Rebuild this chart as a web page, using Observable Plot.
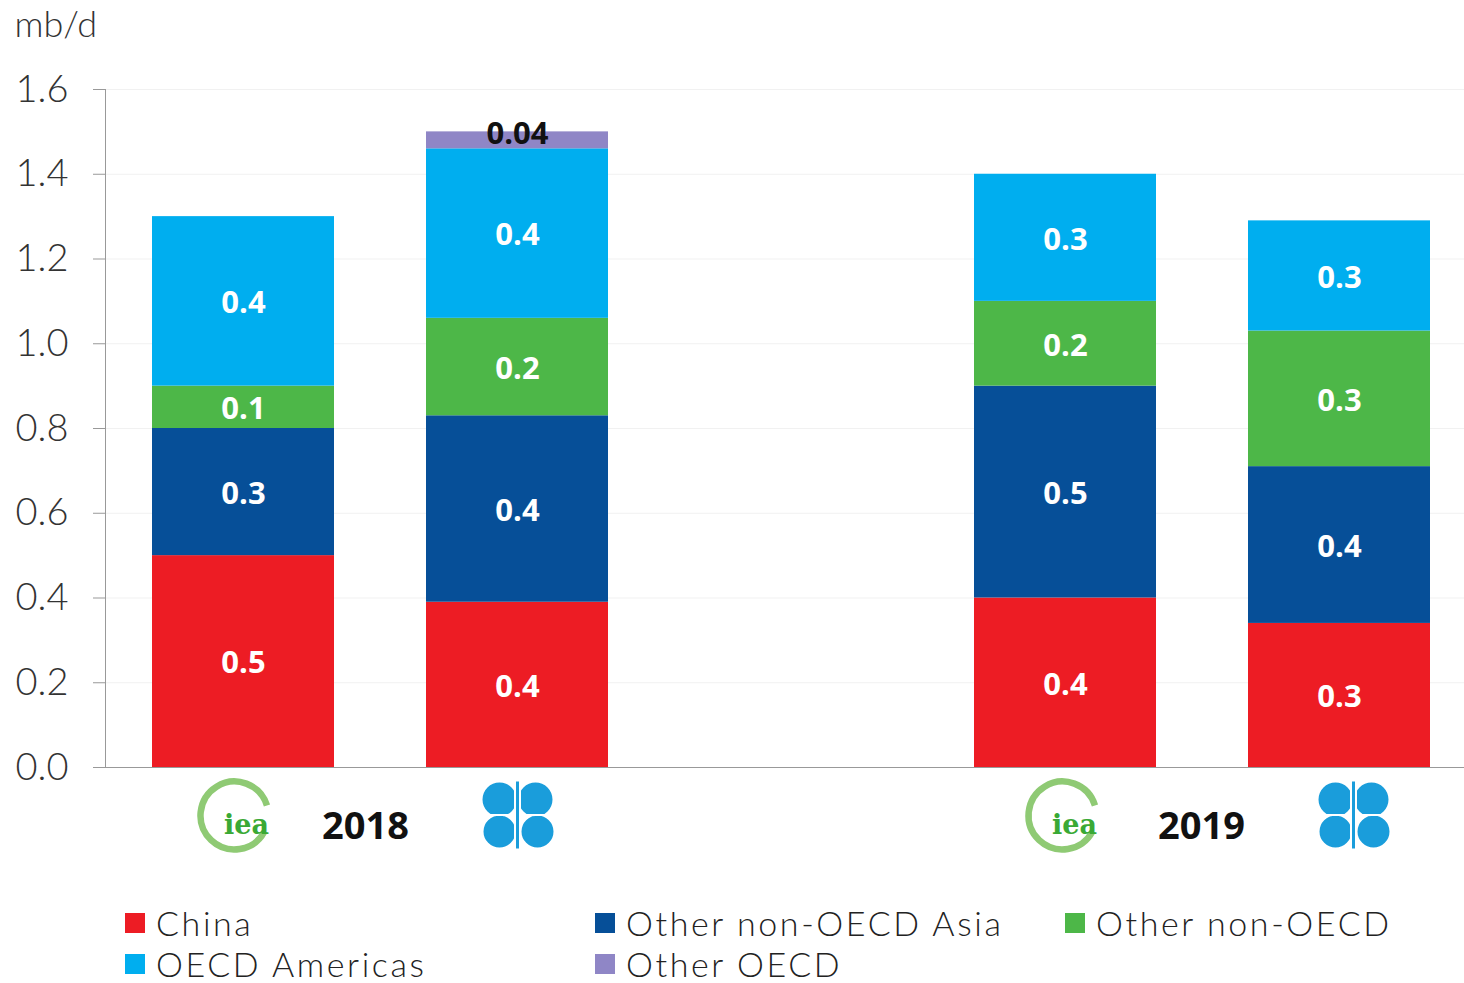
<!DOCTYPE html>
<html><head><meta charset="utf-8">
<script src="https://cdn.jsdelivr.net/npm/d3@7"></script>
<script src="https://cdn.jsdelivr.net/npm/@observablehq/plot@0.6"></script>
<style>
body{margin:0;background:#fff;font-family:Lato,"Open Sans",sans-serif;}
#legend{display:grid;grid-template-columns:470px 470px 470px;grid-template-rows:41px 41px;grid-auto-flow:column;padding-left:125px;padding-top:22px;font-family:Lato,sans-serif;font-weight:300;font-size:34px;letter-spacing:2.6px;color:#222;}
#legend .item{display:flex;align-items:center;white-space:nowrap;line-height:41px;height:41px;}
#legend .sw{width:20px;height:20px;margin-right:11px;flex:none;}
</style></head><body>
<div id="chart"></div>
<div id="legend"></div>
<script>
// ---- data ----
const bars = ["IEA 2018", "OPEC 2018", "IEA 2019", "OPEC 2019"];
const slots = ["IEA 2018", "OPEC 2018", "", "IEA 2019", "OPEC 2019"];
const agencies = ["IEA", "OPEC", "IEA", "OPEC"];
const yearLabels = ["2018", "2019"];
const yearAnchorBars = ["IEA 2018", "IEA 2019"];
const regions = ["China", "Other non-OECD Asia", "Other non-OECD", "OECD Americas", "Other OECD"];
const china        = [0.50, 0.39, 0.40, 0.34];
const otherAsia    = [0.30, 0.44, 0.50, 0.37];
const otherNonOECD = [0.10, 0.23, 0.20, 0.32];
const oecdAmericas = [0.40, 0.40, 0.30, 0.26];
const otherOECD    = [0.00, 0.04, 0.00, 0.00];
const yTicks = [0, 0.2, 0.4, 0.6, 0.8, 1.0, 1.2, 1.4, 1.6];
const regionColors = ["#ed1c24", "#064f98", "#4db748", "#00aeef", "#8f86c6"];
const legendOrder = ["China", "OECD Americas", "Other non-OECD Asia", "Other OECD", "Other non-OECD"];

const series = [china, otherAsia, otherNonOECD, oecdAmericas, otherOECD];
const data = [];
bars.forEach((b, i) => regions.forEach((r, j) => data.push({bar: b, region: r, value: series[j][i]})));
const fmt = v => v <= 0 ? "" : (v < 0.05 ? d3.format(".2f")(v) : d3.format(".1f")(v));

const logos = bars.map((b, i) => ({bar: b, agency: agencies[i]}));
const years = yearLabels.map((y, i) => ({year: y, bar: yearAnchorBars[i]}));

// custom logo symbols
const ringSym = {draw(ctx) { const r = 34, a0 = 0.5, a1 = 2 * Math.PI - 0.3; ctx.moveTo(r * Math.cos(a0), r * Math.sin(a0)); ctx.arc(0, 0, r, a0, a1); }};
const opecBlobs = {draw(ctx) {
  [[-18, -15, 17], [18, -15, 17], [-18, 17, 16], [20, 17, 16]].forEach(([x, y, r]) => { ctx.moveTo(x + r, y); ctx.arc(x, y, r, 0, 2 * Math.PI); });
}};
const opecGap = {draw(ctx) { ctx.rect(-3.5, -34, 7, 68); ctx.rect(-38, -0.5, 76, 2); }};
const opecBar = {draw(ctx) { ctx.rect(-1.5, -33, 3, 67); }};

// per-group offsets for logos and year labels
const groupOffsets = [
  {year: "2018", ieaDx: -9, opecDx: 0, yearDx: 122},
  {year: "2019", ieaDx: -3, opecDx: 14, yearDx: 136}
];
const logoMarks = [];
groupOffsets.forEach(g => {
  const iea = logos.filter(d => d.agency === "IEA" && d.bar.endsWith(g.year));
  const opec = logos.filter(d => d.agency === "OPEC" && d.bar.endsWith(g.year));
  const yr = years.filter(d => d.year === g.year);
  logoMarks.push(
    Plot.dot(iea, {x: "bar", frameAnchor: "bottom", dx: g.ieaDx, dy: 48, r: 10, symbol: ringSym, stroke: "#8fca74", strokeWidth: 6.5, fill: "none"}),
    Plot.text(iea, {x: "bar", frameAnchor: "bottom", dx: g.ieaDx + 12, dy: 66, text: () => "iea", fontFamily: "DejaVu Serif, serif", fontWeight: "bold", fontSize: 27, fill: "#3aa935"}),
    Plot.dot(opec, {x: "bar", frameAnchor: "bottom", dx: g.opecDx, dy: 47, r: 10, symbol: opecBlobs, fill: "#1a9ddb", stroke: "none"}),
    Plot.dot(opec, {x: "bar", frameAnchor: "bottom", dx: g.opecDx, dy: 47, r: 10, symbol: opecGap, fill: "white", stroke: "none"}),
    Plot.dot(opec, {x: "bar", frameAnchor: "bottom", dx: g.opecDx, dy: 47, r: 10, symbol: opecBar, fill: "#1a9ddb", stroke: "none"}),
    Plot.text(yr, {x: "bar", frameAnchor: "bottom", dx: g.yearDx, dy: 71, text: "year", fontFamily: "Open Sans, sans-serif", fontWeight: "bold", fontSize: 38, fill: "#111"})
  );
});

const plot = Plot.plot({
  width: 1464,
  height: 880,
  marginLeft: 105,
  marginRight: 0,
  marginTop: 89,
  marginBottom: 113,
  style: {fontFamily: "Lato, sans-serif", background: "white"},
  x: {domain: slots, paddingInner: 0.336, paddingOuter: 0.145, align: 0.577, axis: null},
  y: {domain: [0, 1.6]},
  color: {domain: regions, range: regionColors},
  marks: [
    Plot.gridY(yTicks, {stroke: "#f1f1f1", strokeOpacity: 1}),
    Plot.barY(data, {x: "bar", y: "value", fill: "region"}),
    Plot.text(data, Plot.stackY({x: "bar", y: "value", text: d => d.region === "Other OECD" ? "" : fmt(d.value), fill: "white", fontWeight: "bold", fontSize: 31, fontFamily: "Open Sans, sans-serif", dy: 2})),
    Plot.text(data, Plot.stackY({x: "bar", y: "value", text: d => d.region === "Other OECD" ? fmt(d.value) : "", fill: "#111", fontWeight: "bold", fontSize: 31, fontFamily: "Open Sans, sans-serif", dy: -6})),
    Plot.axisY({ticks: yTicks, tickFormat: ".1f", tickSize: 12, tickPadding: 25, fontSize: 38, fontWeight: 300, fill: "#333", stroke: "#999", label: null}),
    Plot.frame({anchor: "left", stroke: "#999"}),
    Plot.ruleY([0], {stroke: "#999"}),
    Plot.text(["mb/d"], {frameAnchor: "top-left", dx: -91, dy: -64, lineAnchor: "middle", textAnchor: "start", fontSize: 36, fontWeight: 300, fill: "#333"}),
    ...logoMarks
  ]
});
document.getElementById("chart").appendChild(plot);

const legend = document.getElementById("legend");
legendOrder.forEach(r => {
  const item = document.createElement("div");
  item.className = "item";
  const sw = document.createElement("span");
  sw.className = "sw";
  sw.style.background = regionColors[regions.indexOf(r)];
  item.appendChild(sw);
  item.appendChild(document.createTextNode(r));
  legend.appendChild(item);
});
</script>
</body></html>
